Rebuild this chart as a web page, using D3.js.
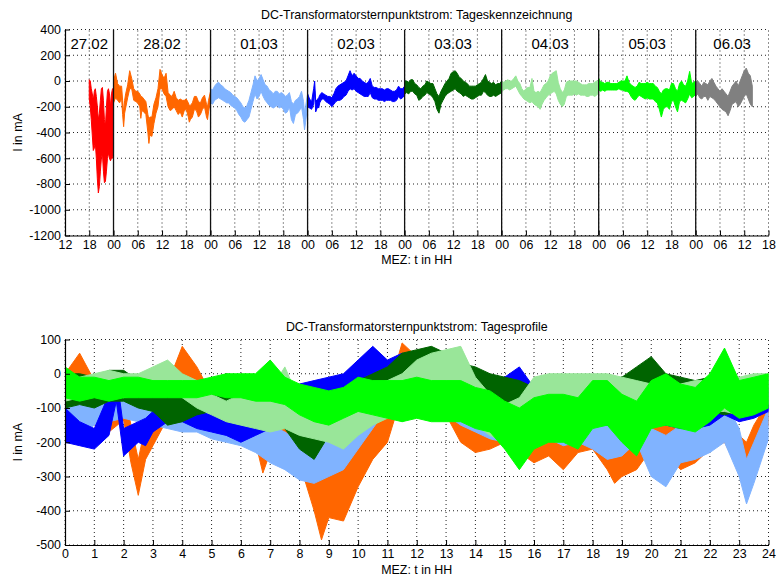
<!DOCTYPE html>
<html><head><meta charset="utf-8">
<script src="https://cdn.jsdelivr.net/npm/d3@7"></script>
<style>
body{margin:0;background:#fff}
svg{display:block}
text{font-family:"Liberation Sans",Arial,Helvetica,sans-serif;fill:#000}
</style>
</head><body>
<svg id="chart" width="776" height="578"></svg>
<script>
// ---------- DATA ----------
const dayNames  = ["27.02","28.02","01.03","02.03","03.03","04.03","05.03","06.03"];
const dayColors = ["#ff0000","#ff6600","#80b3ff","#0000ff","#006400","#99e699","#00ff00","#808080"];
// [hour of day, min mA, max mA]
const d2702 = [[18,-140,10],[18.25,-200,0],[18.5,-300,-60],[18.75,-420,-100],[19,-540,-150],[19.25,-520,-80],[19.5,-480,-60],[19.75,-600,-120],[20,-760,-200],[20.25,-870,-300],[20.5,-820,-250],[20.75,-700,-150],[21,-600,-60],[21.25,-560,-50],[21.5,-700,-150],[21.75,-790,-300],[22,-780,-350],[22.25,-700,-200],[22.5,-600,-80],[22.75,-560,-60],[23,-600,-100],[23.25,-620,-200],[23.5,-600,-100],[23.75,-600,-60],[24,-560,-60]];
const d2802 = [[0,-170,0],[0.5,-130,60],[1,-150,-20],[1.5,-170,-40],[2,-135,-40],[2.25,-260,-150],[2.5,-355,-250],[2.75,-250,-150],[3,-210,-100],[3.5,-130,-30],[4,-60,80],[4.5,-60,20],[5,-150,-60],[5.5,-160,-80],[6,-170,-80],[6.5,-200,-100],[6.75,-290,-120],[7,-230,-120],[7.5,-240,-140],[8,-260,-160],[8.5,-400,-260],[8.75,-485,-300],[9,-420,-280],[9.5,-430,-280],[10,-330,-180],[10.5,-250,-130],[11,-200,-60],[11.5,-60,90],[12,-60,50],[12.5,-100,20],[13,-120,60],[13.5,-200,-90],[14,-230,-110],[14.5,-220,-120],[15,-200,-80],[15.5,-230,-130],[16,-260,-150],[16.5,-240,-140],[17,-280,-150],[17.5,-230,-150],[18,-220,-140],[18.5,-280,-170],[18.75,-320,-190],[19,-300,-190],[19.5,-280,-170],[20,-220,-120],[20.5,-230,-120],[21,-280,-160],[21.5,-260,-170],[22,-220,-130],[22.5,-200,-110],[23,-280,-180],[23.25,-300,-200],[23.5,-240,-150],[24,-150,-80]];
const d0103 = [[0,-170,-60],[0.5,-180,-70],[1,-150,-40],[1.5,-140,-20],[2,-130,-10],[2.5,-140,-30],[3,-150,-40],[3.5,-160,-60],[4,-170,-70],[4.5,-170,-80],[5,-190,-90],[5.5,-200,-110],[6,-210,-120],[6.5,-230,-130],[7,-260,-150],[7.5,-280,-170],[8,-310,-200],[8.5,-320,-210],[9,-300,-190],[9.5,-280,-150],[10,-220,-90],[10.5,-160,-30],[11,-100,40],[11.5,-140,0],[12,-120,20],[12.5,-80,50],[13,-120,10],[13.5,-150,-30],[14,-170,-40],[14.5,-190,-70],[15,-200,-80],[15.5,-210,-100],[16,-200,-80],[16.5,-190,-80],[17,-210,-100],[17.5,-200,-90],[18,-220,-100],[18.5,-250,-120],[19,-240,-110],[19.5,-200,-90],[20,-300,-160],[20.5,-330,-180],[21,-260,-150],[21.5,-250,-140],[22,-230,-120],[22.5,-200,-80],[23,-300,-160],[23.25,-380,-250],[23.5,-320,-200],[24,-190,-100]];
const d0203 = [[0,-200,-100],[0.5,-210,-140],[1,-220,-160],[1.5,-180,-60],[1.75,-80,0],[2,-240,-160],[2.5,-200,-140],[2.75,-210,-130],[3,-170,-110],[3.5,-140,-90],[4,-140,-100],[4.5,-160,-110],[5,-170,-120],[5.5,-180,-120],[6,-200,-130],[6.5,-180,-100],[7,-160,-60],[7.5,-150,-40],[8,-150,-30],[8.5,-140,-20],[9,-120,-10],[9.5,-110,0],[10,-80,40],[10.5,-60,80],[11,-70,40],[11.5,-60,60],[12,-80,40],[12.5,-90,20],[13,-100,20],[13.5,-110,0],[14,-120,-10],[14.5,-120,-20],[15,-120,-10],[15.5,-90,20],[16,-130,-40],[16.5,-140,-50],[17,-140,-50],[17.5,-150,-60],[18,-150,-60],[18.5,-150,-60],[19,-160,-70],[19.5,-150,-60],[20,-150,-60],[20.5,-150,-70],[21,-160,-80],[21.5,-160,-80],[22,-150,-70],[22.5,-120,-40],[23,-140,-60],[23.5,-130,-60],[24,-110,-40]];
const d0303 = [[0,-100,0],[0.5,-90,0],[1,-100,-10],[1.5,-80,10],[2,-80,10],[2.5,-100,-20],[3,-110,-30],[3.5,-150,-50],[4,-140,-60],[4.5,-120,-40],[5,-110,-30],[5.5,-90,0],[6,-100,-10],[6.5,-110,-20],[7,-130,-20],[7.5,-160,-60],[8,-220,-100],[8.5,-250,-120],[9,-180,-80],[9.5,-150,-50],[10,-120,-20],[10.5,-100,0],[11,-90,20],[11.5,-80,60],[12,-70,70],[12.5,-60,80],[13,-80,60],[13.5,-90,30],[14,-100,20],[14.5,-120,0],[15,-110,-10],[15.5,-120,-20],[16,-130,-40],[16.5,-140,-40],[17,-140,-40],[17.5,-130,-40],[18,-120,-30],[18.5,-110,-20],[19,-110,-10],[19.5,-80,20],[20,-90,50],[20.5,-110,0],[21,-120,-10],[21.5,-120,-20],[22,-110,-10],[22.5,-120,-30],[23,-110,-20],[23.5,-100,-20],[24,-90,0]];
const d0403 = [[0,-80,0],[0.5,-70,-10],[1,-60,0],[1.5,-60,10],[2,-70,0],[2.5,-60,0],[3,-50,20],[3.5,-40,40],[4,-70,0],[4.5,-100,-20],[5,-120,-60],[5.5,-140,-80],[6,-150,-60],[6.5,-160,-50],[7,-170,-50],[7.5,-160,20],[8,-180,-80],[8.5,-190,-90],[9,-200,-80],[9.5,-220,-90],[10,-180,-60],[10.5,-150,-30],[11,-130,-20],[11.5,-110,0],[12,-100,40],[12.5,-90,60],[13,-80,70],[13.5,-100,80],[14,-150,-10],[14.5,-180,-60],[15,-200,-90],[15.5,-180,-70],[16,-120,-10],[16.5,-110,0],[17,-110,0],[17.5,-110,0],[18,-100,0],[18.5,-110,0],[19,-100,-10],[19.5,-110,-20],[20,-110,-30],[20.5,-110,-30],[21,-120,-30],[21.5,-120,-20],[22,-110,-20],[22.5,-110,-20],[23,-120,-10],[23.5,-110,0],[24,-90,0]];
const d0503 = [[0,-70,20],[0.5,-80,-10],[1,-70,-10],[1.5,-80,-20],[2,-70,-10],[2.5,-70,-10],[3,-70,-20],[3.5,-70,-20],[4,-70,-20],[4.5,-70,-20],[5,-60,-10],[5.5,-70,0],[6,-70,0],[6.5,-80,0],[7,-80,40],[7.5,-90,-10],[8,-120,-30],[8.5,-140,-40],[9,-150,-50],[9.5,-130,-40],[10,-110,-10],[10.5,-120,-20],[11,-130,-20],[11.5,-140,-20],[12,-130,-10],[12.5,-140,-20],[13,-140,-20],[13.5,-140,-20],[14,-160,-40],[14.5,-170,-50],[15,-220,-80],[15.5,-280,-100],[16,-220,-70],[16.5,-200,-60],[17,-200,-60],[17.5,-220,-70],[18,-160,-20],[18.5,-150,-20],[19,-200,-60],[19.5,-240,-80],[20,-160,-20],[20.5,-150,0],[21,-160,-30],[21.5,-170,-40],[22,-140,0],[22.5,-100,75],[23,-130,-20],[23.5,-120,-10],[24,-100,0]];
const d0603 = [[0,-120,-10],[0.5,-100,0],[1,-130,-20],[1.5,-140,-40],[2,-120,-10],[2.5,-120,-20],[3,-150,-30],[3.5,-120,0],[4,-130,20],[4.5,-140,-10],[5,-160,-40],[5.5,-180,-60],[6,-200,-80],[6.5,-220,-60],[7,-230,-80],[7.5,-240,-100],[8,-270,-120],[8.5,-230,-80],[9,-180,-40],[9.5,-170,-20],[10,-160,0],[10.5,-200,-40],[11,-180,0],[11.5,-150,40],[12,-120,80],[12.5,-100,100],[13,-140,60],[13.5,-180,40],[14,-200,-40]];
const daySeries = [d2702,d2802,d0103,d0203,d0303,d0403,d0503,d0603];
const profileDays = [1,2,3,4,5,6];   // full days shown in the daily profile panel

const topYTicks = [-1200,-1000,-800,-600,-400,-200,0,200,400];
const topXTicks = d3.range(12, 187, 6);          // hours since 27.02 00:00
const topXTickLabels = topXTicks.map(h => String(h % 24).padStart(2,"0"));
const botYTicks = [-500,-400,-300,-200,-100,0,100];
const botXTicks = d3.range(0, 25, 1);

const topTitle = "DC-Transformatorsternpunktstrom: Tageskennzeichnung";
const botTitle = "DC-Transformatorsternpunktstrom: Tagesprofile";
const xLabel = "MEZ: t in HH";
const yLabel = "I in mA";

(function () {
// ---------- LAYOUT ----------
const svg = d3.select("#chart");
const FS = 12.4;
const L = 65, R = 768.5;
const pT = {y0: 29.5, y1: 235.5};
const pB = {y0: 339.5, y1: 545};

const xT = d3.scaleLinear().domain([12, 186]).range([L, R]);
const yT = d3.scaleLinear().domain([-1200, 400]).range([pT.y1, pT.y0]);
const xB = d3.scaleLinear().domain([0, 24]).range([L, R]);
const yB = d3.scaleLinear().domain([-500, 100]).range([pB.y1, pB.y0]);

function panel(x, y, xTicks, yTicks, title, y0, y1, titleOff) {
  const g = svg.append("g");
  g.selectAll(".gx").data(xTicks).enter().append("line")
    .attr("x1", d => x(d)).attr("x2", d => x(d)).attr("y1", y1).attr("y2", y0)
    .attr("stroke", "#222").attr("stroke-width", 1).attr("stroke-dasharray", "1,3");
  g.selectAll(".gy").data(yTicks).enter().append("line")
    .attr("x1", L).attr("x2", R).attr("y1", d => y(d)).attr("y2", d => y(d))
    .attr("stroke", "#222").attr("stroke-width", 1).attr("stroke-dasharray", "1,3");
  g.append("text").attr("x", (L + R) / 2).attr("y", y0 - titleOff).attr("text-anchor", "middle")
    .attr("font-size", FS).text(title);
  g.append("text").attr("x", (L + R) / 2).attr("y", y1 + 28.5).attr("text-anchor", "middle")
    .attr("font-size", FS).text(xLabel);
  g.append("text").attr("transform", `translate(21.5,${(y0 + y1) / 2}) rotate(-90)`)
    .attr("text-anchor", "middle").attr("font-size", FS).text(yLabel);
  return g;
}

function axes(x, y, xTicks, xLabels, yTicks, y1) {
  const g = svg.append("g");
  const xa = d3.axisBottom(x).tickValues(xTicks).tickSizeInner(-5).tickSizeOuter(0)
    .tickPadding(4.5).tickFormat((d, i) => xLabels[i]);
  const ga = g.append("g").attr("transform", `translate(0,${y1})`).call(xa);
  const ya = d3.axisLeft(y).tickValues(yTicks).tickSizeInner(-5).tickSizeOuter(0)
    .tickPadding(4).tickFormat(d => String(d));
  const gy = g.append("g").attr("transform", `translate(${L},0)`).call(ya);
  [ga, gy].forEach(s => {
    s.selectAll("text").attr("font-size", FS).attr("font-family", '"Liberation Sans",Arial,sans-serif').attr("fill", "#000");
    s.selectAll("line").attr("stroke", "#000");
    s.select(".domain").attr("stroke", "#000").attr("stroke-width", 1.2);
  });
}

// ---------- TOP PANEL ----------
panel(xT, yT, topXTicks, topYTicks, topTitle, pT.y0, pT.y1, 10.5);
svg.append("clipPath").attr("id", "clipT").append("rect")
  .attr("x", L).attr("y", pT.y0).attr("width", R - L).attr("height", pT.y1 - pT.y0);
const dataTop = svg.append("g").attr("clip-path", "url(#clipT)");
daySeries.forEach((s, i) => {
  const area = d3.area().x(d => xT(24 * i + d[0])).y0(d => yT(d[1])).y1(d => yT(d[2]));
  dataTop.append("path").datum(s).attr("d", area)
    .attr("fill", dayColors[i]).attr("stroke", dayColors[i]).attr("stroke-width", 1);
});
const seps = d3.range(1, dayNames.length).map(i => 24 * i);
dataTop.selectAll(".sep").data(seps).enter().append("line")
  .attr("x1", d => xT(d)).attr("x2", d => xT(d)).attr("y1", pT.y0).attr("y2", pT.y1)
  .attr("stroke", "#111").attr("stroke-width", 1.3);
const segs = dayNames.map((n, i) => {
  const a = Math.max(24 * i, 12), b = Math.min(24 * (i + 1), 186);
  return {n, c: (a + b) / 2};
});
svg.selectAll(".dl").data(segs).enter().append("text")
  .attr("x", d => xT(d.c)).attr("y", 48.5).attr("text-anchor", "middle")
  .attr("font-size", 15).text(d => d.n);
axes(xT, yT, topXTicks, topXTickLabels, topYTicks, pT.y1);

// ---------- BOTTOM PANEL ----------
panel(xB, yB, botXTicks, botYTicks, botTitle, pB.y0, pB.y1, 9);
svg.append("clipPath").attr("id", "clipB").append("rect")
  .attr("x", L).attr("y", pB.y0).attr("width", R - L).attr("height", pB.y1 - pB.y0);
const dataBot = svg.append("g").attr("clip-path", "url(#clipB)");
profileDays.forEach(i => {
  const area = d3.area().x(d => xB(d[0])).y0(d => yB(d[1])).y1(d => yB(d[2]));
  dataBot.append("path").datum(daySeries[i]).attr("d", area)
    .attr("fill", dayColors[i]).attr("stroke", dayColors[i]).attr("stroke-width", 1);
});
axes(xB, yB, botXTicks, botXTicks.map(String), botYTicks, pB.y1);
})();
</script>
</body></html>
